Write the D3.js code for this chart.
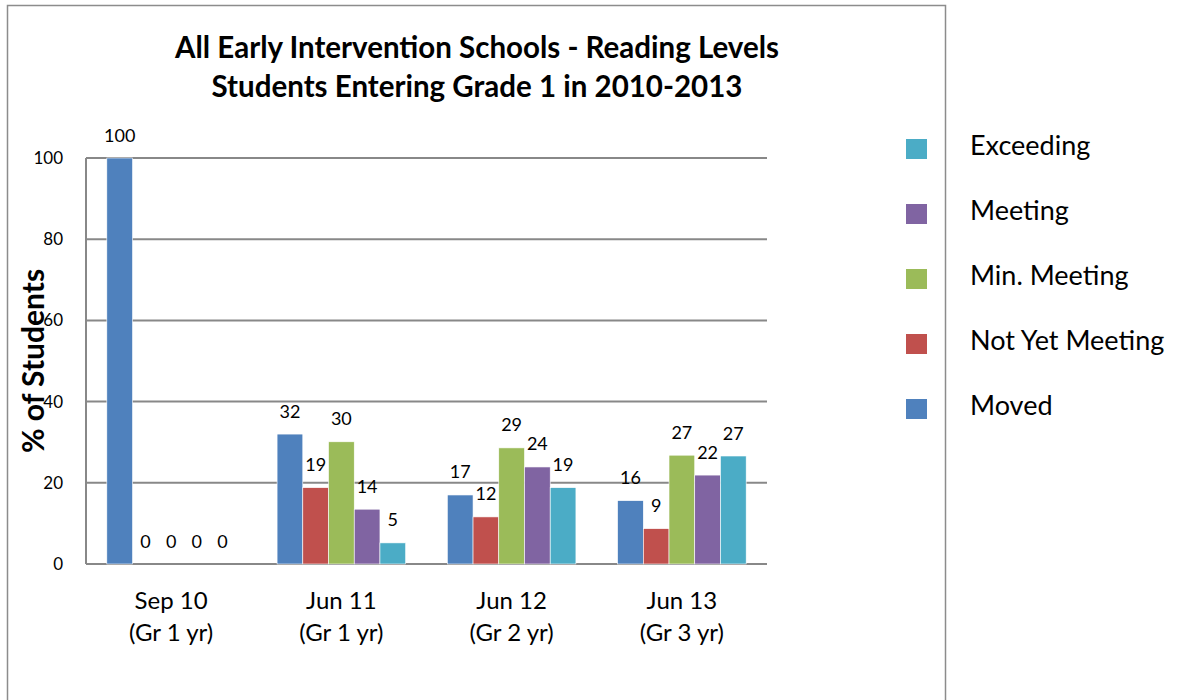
<!DOCTYPE html>
<html>
<head>
<meta charset="utf-8">
<script src="https://cdn.jsdelivr.net/npm/d3@7"></script>
<style>
  html, body { margin: 0; padding: 0; background: #fff; }
  svg { display: block; font-family: Lato, "Open Sans", sans-serif; }
</style>
</head>
<body>
<svg id="chart" width="1185" height="700"></svg>
<script>
// Reading levels by assessment period (percent of students)
const categories = ["Sep 10|(Gr 1 yr)", "Jun 11|(Gr 1 yr)", "Jun 12|(Gr 2 yr)", "Jun 13|(Gr 3 yr)"];
const seriesNames = ["Moved", "Not Yet Meeting", "Min. Meeting", "Meeting", "Exceeding"];
const seriesColors = ["#4F81BD", "#C0504D", "#9BBB59", "#8064A2", "#4BACC6"];

const moved         = [100, 32.0, 17.0, 15.6];
const notYetMeeting = [0, 18.8, 11.6, 8.7];
const minMeeting    = [0, 30.1, 28.6, 26.8];
const meeting       = [0, 13.5, 23.9, 21.9];
const exceeding     = [0, 5.2, 18.8, 26.6];

const yTicks = [0, 20, 40, 60, 80, 100];
const titleLines = ["All Early Intervention Schools - Reading Levels", "Students Entering Grade 1 in 2010-2013"];
const yTitle = "% of Students";

const seriesValues = [moved, notYetMeeting, minMeeting, meeting, exceeding];

const svg = d3.select("#chart");

// outer chart frame
svg.append("rect")
  .attr("x", 7.5).attr("y", 5.5)
  .attr("width", 938).attr("height", 720)
  .attr("fill", "#fff").attr("stroke", "#8c8c8c").attr("stroke-width", 1.5);

const plot = { left: 86, right: 767, top: 158, bottom: 564 };

const x0 = d3.scaleBand().domain(categories).range([plot.left, plot.right]).paddingInner(0).paddingOuter(0);
const x1 = d3.scaleBand().domain(seriesNames).range([0, x0.bandwidth()]).paddingInner(0).paddingOuter(0.81);
const y = d3.scaleLinear().domain([0, 100]).range([plot.bottom, plot.top]);
const color = d3.scaleOrdinal().domain(seriesNames).range(seriesColors);

// y axis title (drawn beneath the tick labels)
svg.append("text")
  .attr("transform", `translate(44,${(plot.top + plot.bottom) / 2}) rotate(-90)`)
  .attr("text-anchor", "middle")
  .attr("font-size", 30).attr("font-weight", "bold")
  .attr("fill", "#000")
  .text(yTitle);

// gridlines
svg.append("g")
  .selectAll("line")
  .data(yTicks)
  .join("line")
  .attr("x1", plot.left).attr("x2", plot.right)
  .attr("y1", d => y(d)).attr("y2", d => y(d))
  .attr("stroke", "#888").attr("stroke-width", 2);

// vertical axis line
svg.append("line")
  .attr("x1", plot.left).attr("x2", plot.left)
  .attr("y1", y(100)).attr("y2", y(0))
  .attr("stroke", "#888").attr("stroke-width", 2);

// y tick labels
const yAxis = d3.axisLeft(y).tickValues(yTicks).tickSize(0).tickPadding(23);
const yg = svg.append("g").attr("transform", `translate(${plot.left},0)`).call(yAxis);
yg.select(".domain").remove();
yg.selectAll("text").attr("font-size", 17).attr("fill", "#000").attr("font-family", "Lato, sans-serif");

// bars
const rows = categories.map((c, i) => ({ cat: c, vals: seriesNames.map((s, j) => ({ s, v: seriesValues[j][i] })) }));
const groups = svg.append("g").selectAll("g")
  .data(rows).join("g")
  .attr("transform", d => `translate(${x0(d.cat)},0)`);

groups.selectAll("rect")
  .data(d => d.vals)
  .join("rect")
  .attr("x", d => x1(d.s))
  .attr("width", x1.bandwidth())
  .attr("y", d => y(d.v))
  .attr("height", d => y(0) - y(d.v))
  .attr("fill", d => color(d.s))
  .attr("stroke", "#fff").attr("stroke-width", 0.6);

groups.selectAll("text")
  .data(d => d.vals)
  .join("text")
  .attr("x", d => x1(d.s) + x1.bandwidth() / 2)
  .attr("y", d => y(d.v) - 16.5)
  .attr("text-anchor", "middle")
  .attr("font-size", 18)
  .attr("fill", "#000")
  .text(d => Math.round(d.v));

// x axis category labels
const xg = svg.append("g");
categories.forEach(c => {
  const parts = c.split("|");
  const cx = x0(c) + x0.bandwidth() / 2;
  const t = xg.append("text")
    .attr("text-anchor", "middle")
    .attr("font-size", 24)
    .attr("fill", "#000");
  t.append("tspan").attr("x", cx).attr("y", 609).text(parts[0]);
  t.append("tspan").attr("x", cx).attr("y", 641).text(parts[1]);
});

// title
titleLines.forEach((line, i) => {
  svg.append("text")
    .attr("x", 477).attr("y", 58 + i * 39)
    .attr("text-anchor", "middle")
    .attr("font-size", 29.5).attr("font-weight", "bold")
    .attr("fill", "#000")
    .text(line);
});

// legend (reverse order)
const legendOrder = seriesNames.slice().reverse();
const lg = svg.append("g");
legendOrder.forEach((s, i) => {
  const cy = 149 + i * 65;
  lg.append("rect")
    .attr("x", 906).attr("y", cy - 10)
    .attr("width", 21).attr("height", 20)
    .attr("fill", color(s));
  lg.append("text")
    .attr("x", 970).attr("y", cy + 6)
    .attr("font-size", 27)
    .attr("fill", "#000")
    .text(s);
});
</script>
</body>
</html>
